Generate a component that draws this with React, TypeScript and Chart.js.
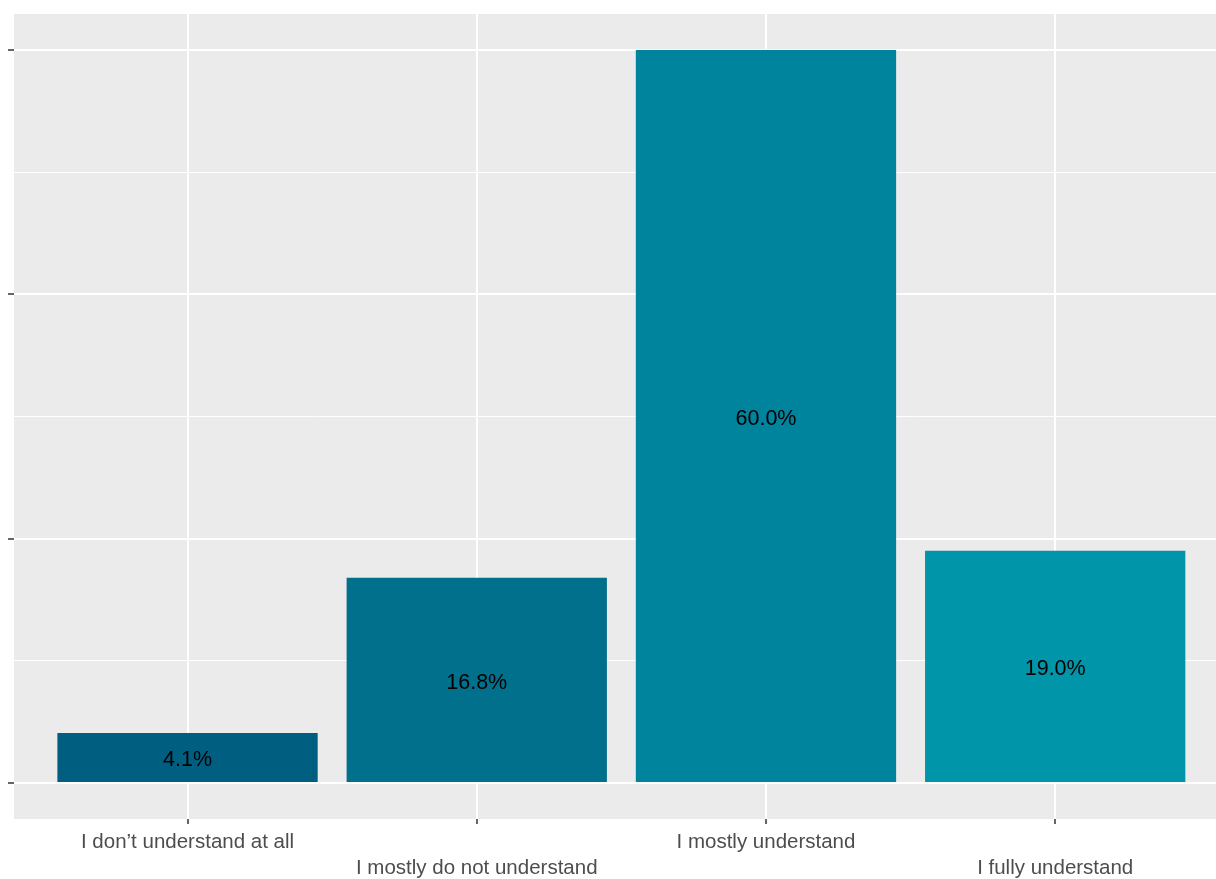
import React, { useEffect, useRef } from "react";
import { Chart, registerables } from "chart.js";

Chart.register(...registerables);

const categories = [
  "I don\u2019t understand at all",
  "I mostly do not understand",
  "I mostly understand",
  "I fully understand",
];
const values = [4.1, 16.8, 60.0, 19.0];
const barColors = ["#005F80", "#00708C", "#00839C", "#0095A8"];
const yTicks = [0, 10, 20, 30, 40, 50, 60];
const yMajor = [0, 20, 40, 60];

const FONT = '"Liberation Sans", Arial, sans-serif';

export default function App() {
  const ref = useRef<HTMLCanvasElement>(null);

  useEffect(() => {
    if (!ref.current) return;
    const panelBg = {
      id: "panelBg",
      beforeDraw(chart: any) {
        const { ctx, chartArea: a } = chart;
        ctx.save();
        ctx.fillStyle = "#EBEBEB";
        ctx.fillRect(a.left, a.top, a.right - a.left, a.bottom - a.top);
        ctx.restore();
      },
    };
    const barLabels = {
      id: "barLabels",
      afterDatasetsDraw(chart: any) {
        const { ctx } = chart;
        const meta = chart.getDatasetMeta(0);
        ctx.save();
        ctx.font = `21.5px ${FONT}`;
        ctx.fillStyle = "#000000";
        ctx.textAlign = "center";
        ctx.textBaseline = "middle";
        meta.data.forEach((el: any, i: number) => {
          const p = el.getProps(["x", "y", "base"], true);
          ctx.fillText(values[i].toFixed(1) + "%", p.x, (p.y + p.base) / 2 + 3);
        });
        ctx.restore();
      },
    };

    const chart = new Chart(ref.current, {
      type: "bar",
      data: {
        datasets: [
          {
            data: values.map((v, i) => ({ x: i + 1, y: v })),
            backgroundColor: barColors,
            borderWidth: 0,
            barPercentage: 0.9,
            categoryPercentage: 1,
          } as any,
        ],
      },
      options: {
        animation: false,
        responsive: false,
        maintainAspectRatio: false,
        layout: { padding: { top: 14, right: 0, left: 0, bottom: 0 } },
        plugins: { legend: { display: false }, tooltip: { enabled: false } },
        scales: {
          x: {
            type: "linear",
            offset: false,
            min: 0.4,
            max: 4.556,
            afterBuildTicks: (s: any) => {
              s.ticks = categories.map((_, i) => ({ value: i + 1 }));
            },
            afterFit: (s: any) => {
              s.height = 60;
            },
            grid: {
              offset: false,
              color: "#FFFFFF",
              lineWidth: 2,
              drawTicks: true,
              tickLength: 5,
              tickColor: "#333333",
              tickWidth: 1.5,
            },
            border: { display: false },
            ticks: {
              autoSkip: false,
              maxRotation: 0,
              minRotation: 0,
              padding: 5,
              color: "#4D4D4D",
              font: { family: FONT, size: 20.5, lineHeight: 1.27 },
              callback: (v: any) => {
                const i = Math.round(Number(v)) - 1;
                if (i < 0 || i >= categories.length) return "";
                return i % 2 === 0 ? [categories[i]] : ["", categories[i]];
              },
            },
          } as any,
          y: {
            min: -2.95,
            max: 62.95,
            afterBuildTicks: (s: any) => {
              s.ticks = yTicks.map((v) => ({ value: v }));
            },
            afterFit: (s: any) => {
              s.width = 14;
            },
            grid: {
              color: "#FFFFFF",
              lineWidth: (c: any) => (yMajor.includes(c.tick?.value) ? 2 : 1),
              tickColor: (c: any) =>
                yMajor.includes(c.tick?.value) ? "#333333" : "rgba(0,0,0,0)",
              tickLength: 6,
              tickWidth: 1.5,
            },
            border: { display: false },
            ticks: { callback: () => "" },
          } as any,
        },
      },
      plugins: [panelBg, barLabels],
    });
    return () => chart.destroy();
  }, []);

  return (
    <div
      style={{
        position: "absolute",
        left: 0,
        top: 0,
        width: 1216,
        height: 879,
        background: "#FFFFFF",
        overflow: "hidden",
      }}
    >
      <canvas
        ref={ref}
        width={1216}
        height={879}
        style={{ display: "block", width: 1216, height: 879 }}
      />
    </div>
  );
}
